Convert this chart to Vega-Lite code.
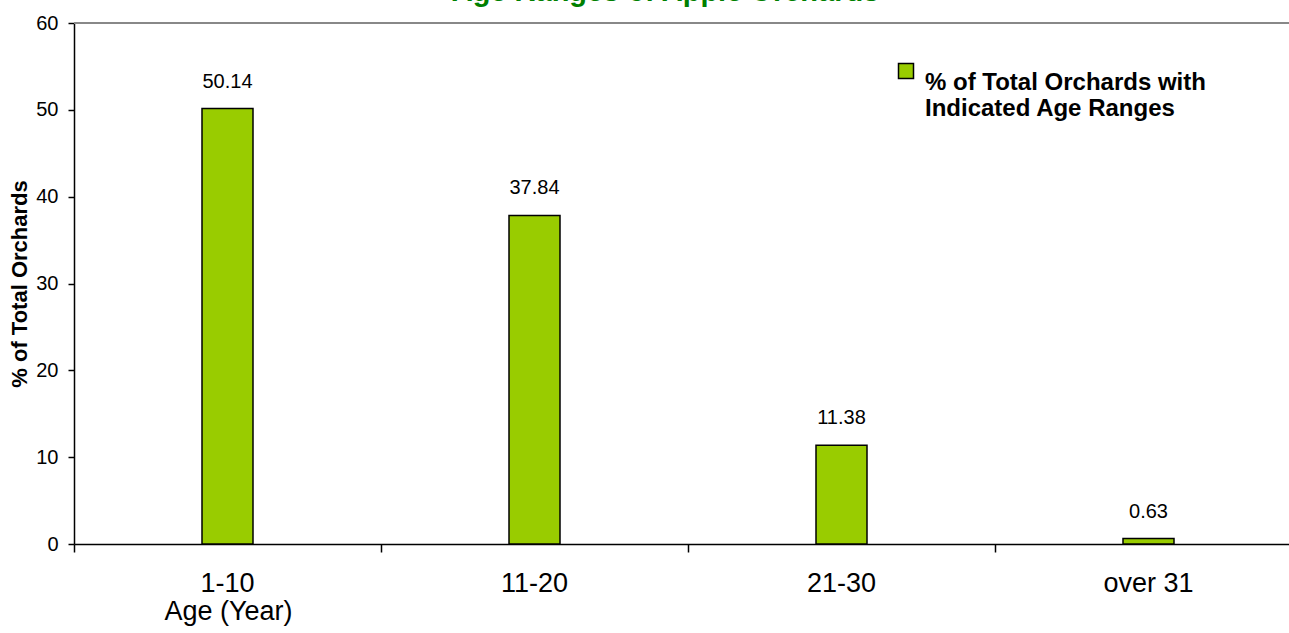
{
  "$schema": "https://vega.github.io/schema/vega-lite/v6.json",
  "autosize": {"type": "none"},
  "padding": {"left": 74, "top": 23, "right": 0, "bottom": 89},
  "width": 1215,
  "height": 521,
  "background": "white",
  "title": {
    "text": "Age Ranges of Apple Orchards",
    "color": "#008000",
    "font": "Liberation Sans",
    "fontSize": 29,
    "fontWeight": "bold",
    "anchor": "middle",
    "frame": "group",
    "baseline": "alphabetic",
    "offset": 0,
    "dx": -16,
    "dy": 17
  },
  "config": {
    "view": {"stroke": null},
    "font": "Liberation Sans",
    "axis": {"grid": false, "domainColor": "#000000", "tickColor": "#000000", "labelColor": "#000000", "titleColor": "#000000", "domainWidth": 1.5, "tickWidth": 1.5}
  },
  "data": {
    "values": [
      {"age": "1-10", "pct": 50.14, "series": "% of Total Orchards with Indicated Age Ranges"},
      {"age": "11-20", "pct": 37.84, "series": "% of Total Orchards with Indicated Age Ranges"},
      {"age": "21-30", "pct": 11.38, "series": "% of Total Orchards with Indicated Age Ranges"},
      {"age": "over 31", "pct": 0.63, "series": "% of Total Orchards with Indicated Age Ranges"}
    ]
  },
  "encoding": {
    "x": {
      "field": "age",
      "type": "nominal",
      "sort": null,
      "scale": {"range": [0, 1228], "paddingInner": 0, "paddingOuter": 0},
      "axis": {
        "title": "Age (Year)",
        "titleFontSize": 27,
        "titleFontWeight": "normal",
        "titleX": 154,
        "titleY": 67,
        "titleAlign": "center",
        "titleBaseline": "middle",
        "labelAngle": 0,
        "labelFontSize": 27,
        "labelPadding": 18,
        "bandPosition": 0,
        "tickSize": 8
      }
    },
    "y": {
      "field": "pct",
      "type": "quantitative",
      "scale": {"domain": [0, 60]},
      "axis": {
        "title": "% of Total Orchards",
        "titleFontSize": 22,
        "titleFontWeight": "bold",
        "titlePadding": 4,
        "values": [0, 10, 20, 30, 40, 50, 60],
        "labelFontSize": 20,
        "labelPadding": 10,
        "tickSize": 6
      }
    }
  },
  "layer": [
    {
      "mark": {"type": "rule", "color": "#888888", "strokeWidth": 2},
      "encoding": {"y": {"datum": 60}, "x": null}
    },
    {
      "mark": {"type": "bar", "width": 51, "stroke": "#000000", "strokeWidth": 1.5},
      "encoding": {
        "color": {
          "field": "series",
          "type": "nominal",
          "scale": {"range": ["#99CC00"]},
          "legend": {
            "title": null,
            "orient": "none",
            "legendX": 820,
            "legendY": 36,
            "padding": 0,
            "symbolType": "square",
            "symbolSize": 225,
            "symbolStrokeColor": "#000000",
            "symbolStrokeWidth": 1.5,
            "symbolOpacity": 1,
            "labelFontSize": 24,
            "labelFontWeight": "bold",
            "labelColor": "#000000",
            "labelLimit": 0,
            "labelOffset": 7,
            "labelBaseline": "top",
            "labelExpr": "['% of Total Orchards with', 'Indicated Age Ranges']"
          }
        }
      }
    },
    {
      "mark": {"type": "text", "fontSize": 20, "color": "#000000", "baseline": "middle", "dy": -27},
      "encoding": {
        "text": {"field": "pct", "type": "quantitative", "format": ".2f"}
      }
    }
  ]
}
